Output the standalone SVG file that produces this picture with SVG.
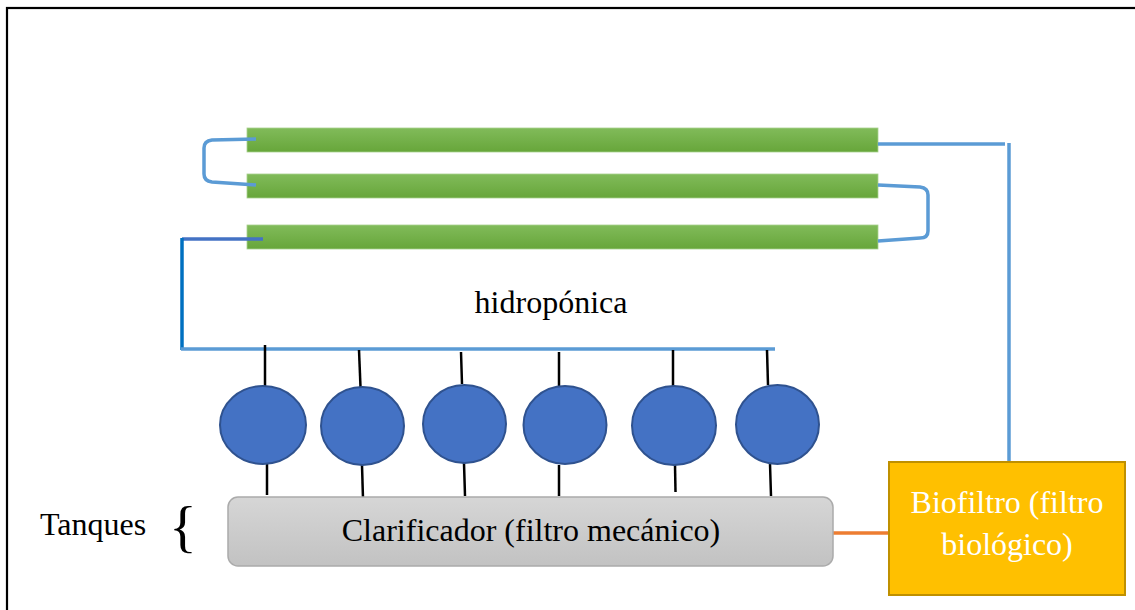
<svg xmlns="http://www.w3.org/2000/svg" width="1135" height="610" viewBox="0 0 1135 610">
<defs>
<linearGradient id="gbar" x1="0" y1="0" x2="0" y2="1">
<stop offset="0" stop-color="#81BB5A"/><stop offset="1" stop-color="#67A63A"/>
</linearGradient>
<linearGradient id="ggray" x1="0" y1="0" x2="0" y2="1">
<stop offset="0" stop-color="#D6D6D6"/><stop offset="1" stop-color="#C2C2C2"/>
</linearGradient>
<style>
.bar{fill:url(#gbar);stroke:#A9D18E;stroke-width:0.8}
.pipe{fill:none;stroke:#5B9BD5;stroke-width:3.5}
.dpipe{fill:none;stroke:#0070C0;stroke-width:3.5}
.stick{stroke:#000;stroke-width:2.5}
.tank{fill:#4472C4;stroke:#2F528F;stroke-width:2}
.t{font-family:"Liberation Serif","Times New Roman",serif;font-size:32px;fill:#000}
</style>
</defs>
<rect width="1135" height="610" fill="#fff"/>
<rect x="7" y="8" width="1140" height="620" fill="none" stroke="#000" stroke-width="2.2"/>

<g id="bar1"><rect class="bar" x="247" y="128" width="631" height="24"/></g>
<g id="bar2"><rect class="bar" x="247" y="174" width="631" height="24"/></g>
<g id="bar3"><rect class="bar" x="247" y="225" width="631" height="24"/></g>

<g id="connectors">
<path class="pipe" d="M256,139 L212,140 Q204,141 204,148 L204,174 Q204,181 212,182 L256,185"/>
<path class="pipe" d="M878,185 L920,187 Q928,188 928,195 L928,231 Q928,238 920,238 L878,241"/>
<path class="pipe" d="M878,144 L1005,144"/>
<path class="pipe" d="M1009,143 L1009,472"/>
<path class="pipe" d="M182,239 L263,239" style="stroke:#4472C4"/>
<path class="dpipe" d="M182,238 L182,350"/>
<path class="pipe" d="M181,349 L775,349"/>
<path class="pipe" d="M833,533 L899,533" style="stroke:#ED7D31"/>
<line class="stick" x1="265" y1="345" x2="265" y2="386"/>
<line class="stick" x1="267" y1="464" x2="267" y2="495"/>
<line class="stick" x1="359" y1="350" x2="360.5" y2="387"/>
<line class="stick" x1="362" y1="465" x2="363" y2="499"/>
<line class="stick" x1="461" y1="352" x2="462" y2="384"/>
<line class="stick" x1="464" y1="463" x2="465" y2="496"/>
<line class="stick" x1="559" y1="352" x2="559" y2="386"/>
<line class="stick" x1="559" y1="465" x2="559" y2="496"/>
<line class="stick" x1="673" y1="350" x2="673" y2="386"/>
<line class="stick" x1="675" y1="465" x2="675.5" y2="492"/>
<line class="stick" x1="767" y1="350" x2="768" y2="385"/>
<line class="stick" x1="770" y1="464" x2="771" y2="496"/>
</g>

<g id="hidroponica"><text class="t" x="551" y="313" text-anchor="middle">hidropónica</text></g>

<g id="tank1"><ellipse class="tank" cx="263" cy="425" rx="43" ry="39"/></g>
<g id="tank2"><ellipse class="tank" cx="362.5" cy="426" rx="41.5" ry="39"/></g>
<g id="tank3"><ellipse class="tank" cx="464.5" cy="424" rx="41.5" ry="39"/></g>
<g id="tank4"><ellipse class="tank" cx="565" cy="425" rx="41.5" ry="39"/></g>
<g id="tank5"><ellipse class="tank" cx="674" cy="425.5" rx="42" ry="39.5"/></g>
<g id="tank6"><ellipse class="tank" cx="777.5" cy="424.5" rx="41.5" ry="39.5"/></g>

<g id="tanques">
<text class="t" x="40" y="535">Tanques</text>
<text x="183" y="546" text-anchor="middle" style="font-family:'Liberation Serif','Times New Roman',serif;font-size:58px;fill:#000">{</text>
</g>

<g id="clarificador">
<rect x="228" y="497" width="605" height="69" rx="10" fill="url(#ggray)" stroke="#ABABAB" stroke-width="1.5"/>
<text class="t" x="531" y="541" text-anchor="middle">Clarificador (filtro mecánico)</text>
</g>

<g id="biofiltro">
<rect x="889" y="462" width="236" height="133" fill="#FFC000" stroke="#BF9000" stroke-width="2"/>
<text class="t" x="1007" y="513" text-anchor="middle" style="fill:#fff">Biofiltro (filtro</text>
<text class="t" x="1007" y="555" text-anchor="middle" style="fill:#fff">biológico)</text>
</g>
</svg>
